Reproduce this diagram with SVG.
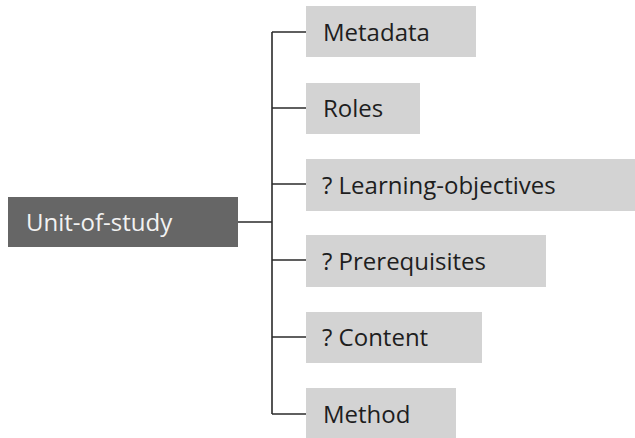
<svg xmlns="http://www.w3.org/2000/svg" width="635" height="438" viewBox="0 0 635 438">
  <style>
    .child rect { fill: #d3d3d3; }
    .child text { fill: #1e1e1e; font-family: "Open Sans", "Liberation Sans", sans-serif; font-size: 24px; }
    .root rect { fill: #666666; }
    .root text { fill: #f2f2f2; font-family: "Open Sans", "Liberation Sans", sans-serif; font-size: 24px; }
    .conn { stroke: #2a2a2a; stroke-width: 1.6; fill: none; }
  </style>
  <rect width="635" height="438" fill="#ffffff"/>

  <g id="connectors" class="conn">
    <line x1="238" y1="222" x2="272" y2="222"/>
    <line x1="272" y1="32" x2="272" y2="414"/>
    <line x1="272" y1="32" x2="306" y2="32"/>
    <line x1="272" y1="108" x2="306" y2="108"/>
    <line x1="272" y1="184" x2="306" y2="184"/>
    <line x1="272" y1="260" x2="306" y2="260"/>
    <line x1="272" y1="337" x2="306" y2="337"/>
    <line x1="272" y1="414" x2="306" y2="414"/>
  </g>

  <g id="unit-of-study" class="root">
    <rect x="8" y="197" width="230" height="50"/>
    <text x="26" y="231">Unit-of-study</text>
  </g>

  <g id="metadata" class="child">
    <rect x="306" y="6" width="170" height="51"/>
    <text x="323" y="41">Metadata</text>
  </g>

  <g id="roles" class="child">
    <rect x="306" y="83" width="114" height="51"/>
    <text x="323" y="117">Roles</text>
  </g>

  <g id="learning-objectives" class="child">
    <rect x="306" y="159" width="329" height="52"/>
    <text x="322" y="194">? Learning-objectives</text>
  </g>

  <g id="prerequisites" class="child">
    <rect x="306" y="235" width="240" height="52"/>
    <text x="322" y="270">? Prerequisites</text>
  </g>

  <g id="content" class="child">
    <rect x="306" y="312" width="176" height="51"/>
    <text x="322" y="346">? Content</text>
  </g>

  <g id="method" class="child">
    <rect x="306" y="388" width="150" height="50"/>
    <text x="323" y="423">Method</text>
  </g>
</svg>
